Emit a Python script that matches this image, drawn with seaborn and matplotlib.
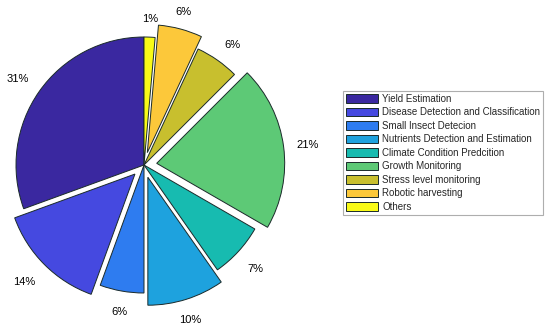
import matplotlib
matplotlib.use("Agg")
import numpy as np
import matplotlib.pyplot as plt
import matplotlib.transforms as mtransforms
import seaborn as sns

categories = ["Yield Estimation", "Disease Detection and Classification",
              "Small Insect Detecion", "Nutrients Detection and Estimation",
              "Climate Condition Predcition", "Growth Monitoring",
              "Stress level monitoring", "Robotic harvesting", "Others"]
counts = [22, 10, 4, 7, 5, 15, 4, 4, 1]
exploded = [0, 1, 0, 1, 0, 1, 0, 1, 0]
colors = ["#3a28a0", "#4549e0", "#2e7cf0", "#1ea2de", "#17bbb0",
          "#5dc976", "#c8bf2e", "#fcc83a", "#f8fa17"]

sns.set_theme(style="white")
plt.rcParams['font.family'] = ['Liberation Sans', 'DejaVu Sans']
palette = sns.color_palette(colors)

fig = plt.figure(figsize=(5.5, 3.3), dpi=100)
ax = fig.add_axes([0, 0, 0.6, 1])
R = 128.0
CX, CY = 144.0, 165.0
wedges, texts, autotexts = ax.pie(
    counts, explode=[0.1 * e for e in exploded], colors=palette,
    startangle=90, counterclock=True, radius=1.0,
    autopct='%1.0f%%', pctdistance=1.1, labels=None,
    wedgeprops=dict(edgecolor="#1a2a2a", linewidth=0.7),
    textprops=dict(fontsize=8, color="black"))
down = mtransforms.ScaledTranslation(0, -0.035, fig.dpi_scale_trans)
for w, t in zip(wedges, autotexts):
    ang = np.deg2rad((w.theta1 + w.theta2) / 2)
    c, s = np.cos(ang), np.sin(ang)
    t.set_ha('left' if c > 0.5 else ('right' if c < -0.5 else 'center'))
    if s > 0.5:
        t.set_va('bottom')
    elif s < -0.5:
        t.set_va('top')
        t.set_transform(ax.transData + down)
    else:
        t.set_va('center')
ax.set_aspect('auto')
ax.set_xlim(-CX / R, (330 - CX) / R)
ax.set_ylim(-(330 - CY) / R, CY / R)
ax.axis('off')

leg = fig.legend(wedges, categories, loc='upper left',
                 bbox_to_anchor=(343 / 550, 1 - 91 / 330),
                 fontsize=7, frameon=True, fancybox=False, shadow=False,
                 labelspacing=0.36, handlelength=3.3, handleheight=1.0,
                 handletextpad=0.45, borderpad=0.3, borderaxespad=0)
leg.get_frame().set_edgecolor("#9a9a9a")
leg.get_frame().set_linewidth(0.8)

fig.savefig("out.png", dpi=100)
